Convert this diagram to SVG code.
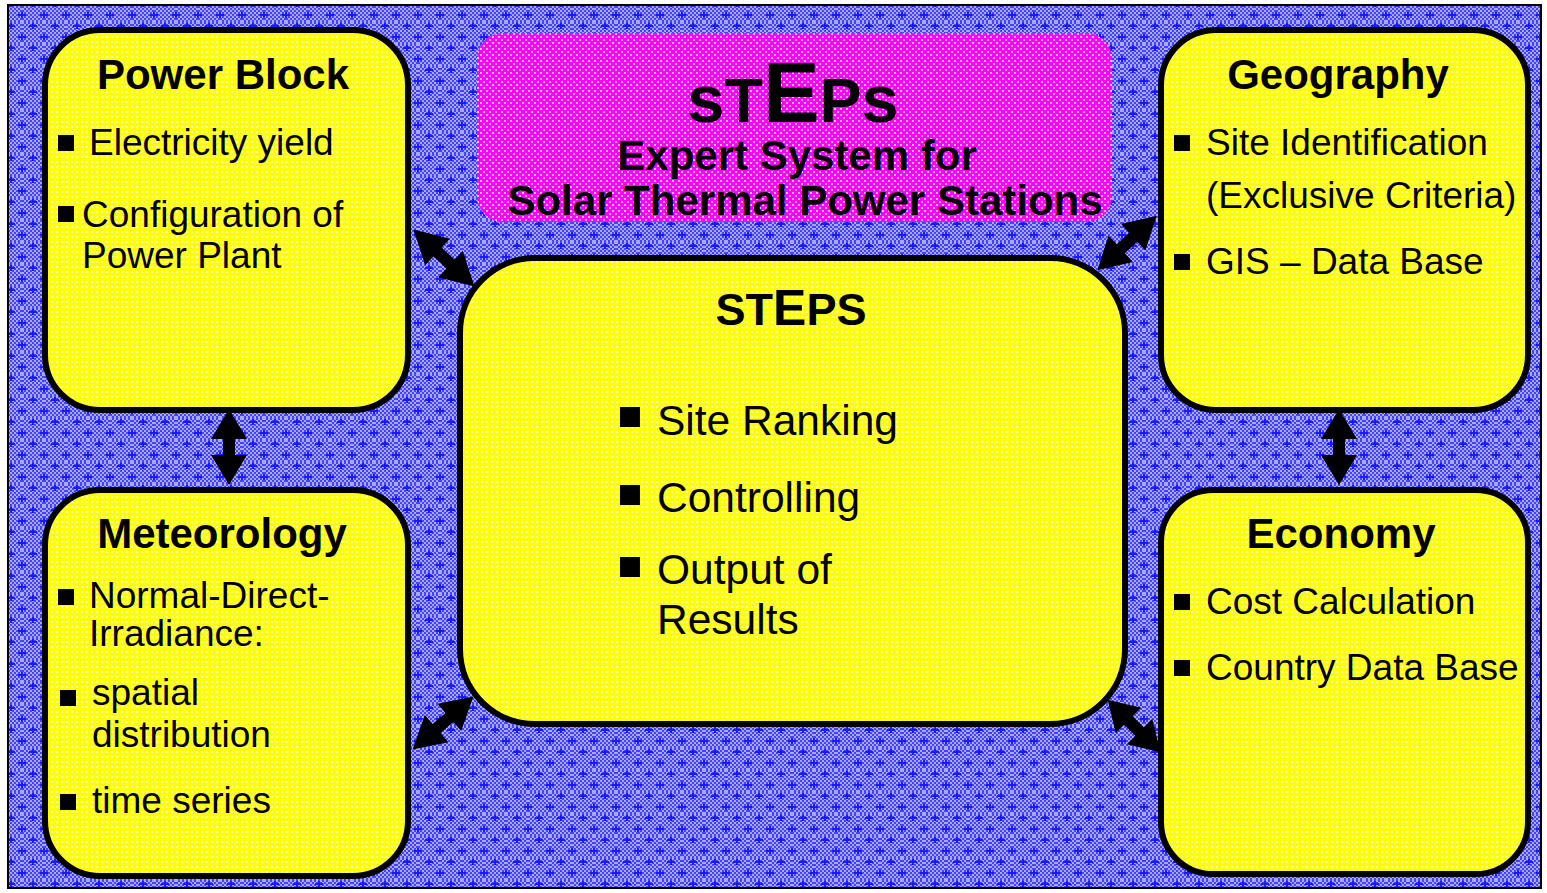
<svg xmlns="http://www.w3.org/2000/svg" xmlns:xlink="http://www.w3.org/1999/xlink" width="1547" height="893" viewBox="0 0 1547 893">
  <style>
    .box { fill: url(#yellowDots); stroke: #000; stroke-width: 6; }
    .title { font-family: "Liberation Sans", Arial, sans-serif; font-weight: bold; font-size: 42px; fill: #000; }
    .item { font-family: "Liberation Sans", Arial, sans-serif; font-size: 37px; fill: #000; }
    .big { font-family: "Liberation Sans", Arial, sans-serif; font-size: 42.5px; fill: #000; }
    .bullet { fill: #000; }
    .arrow { fill: #000; }
  </style>
  <defs>
    <!-- blue checker background with darker crosses -->
    <pattern id="blueChk" width="4" height="4" patternUnits="userSpaceOnUse">
      <rect width="4" height="4" fill="#4242ff"/>
      <rect x="0" y="0" width="2" height="2" fill="#a8a8ff"/>
      <rect x="2" y="2" width="2" height="2" fill="#a8a8ff"/>
    </pattern>
    <pattern id="blueBg" width="22" height="22" patternUnits="userSpaceOnUse">
      <rect width="22" height="22" fill="url(#blueChk)"/>
      <path d="M10 1h2v6h-2zM7 3h8v2h-8z" fill="#1a1aff"/>
      <path d="M-1 12h2v6h-2zM21 12h2v6h-2zM-4 14h8v2h-8zM18 14h8v2h-8z" fill="#1a1aff"/>
    </pattern>
    <!-- yellow fill with pale dots -->
    <pattern id="yellowDots" width="5" height="5" patternUnits="userSpaceOnUse">
      <rect width="5" height="5" fill="#ffff00"/>
      <rect x="1" y="1" width="2" height="2" fill="#ffffb0"/>
    </pattern>
    <!-- magenta checker -->
    <pattern id="magentaChk" width="6" height="6" patternUnits="userSpaceOnUse">
      <rect width="6" height="6" fill="#ff00ff"/>
      <rect x="0" y="0" width="2" height="2" fill="#ffb4ff"/>
      <rect x="3" y="3" width="2" height="2" fill="#ffb4ff"/>
    </pattern>
    <!-- double-headed block arrow along the x axis -->
    <path id="dblArrow" d="M-38 0L-8 -18L-8 -6L8 -6L8 -18L38 0L8 18L8 6L-8 6L-8 18Z"/>
  </defs>

  <!-- background and frame -->
  <rect x="8" y="5" width="1533" height="883" fill="url(#blueBg)" stroke="#000" stroke-width="2"/>

  <!-- title banner -->
  <g id="banner">
    <rect x="477" y="33" width="635" height="189" rx="26" fill="url(#magentaChk)"/>
    <text x="793" y="122" text-anchor="middle" class="title"><tspan font-size="67">s</tspan><tspan font-size="63">T</tspan><tspan font-size="85">E</tspan><tspan font-size="63">P</tspan><tspan font-size="67">s</tspan></text>
    <text x="797" y="170" text-anchor="middle" class="title">Expert System for</text>
    <text x="805" y="215" text-anchor="middle" class="title" font-size="42.5">Solar Thermal Power Stations</text>
  </g>

  <!-- connectors -->
  <g id="connectors" class="arrow">
    <use xlink:href="#dblArrow" transform="translate(444 258) rotate(43) scale(1.1 1)"/>
    <use xlink:href="#dblArrow" transform="translate(1127 243) rotate(-42.5) scale(1.06 1)"/>
    <use xlink:href="#dblArrow" transform="translate(443 723) rotate(-41) scale(1.06 1)"/>
    <use xlink:href="#dblArrow" transform="translate(1134 726) rotate(45) scale(0.98 1)"/>
    <use xlink:href="#dblArrow" transform="translate(229 447) rotate(90)"/>
    <use xlink:href="#dblArrow" transform="translate(1339 447) rotate(90)"/>
  </g>

  <!-- Power Block -->
  <g id="power-block">
    <rect class="box" x="45" y="30" width="363" height="380" rx="55"/>
    <text x="223" y="89" text-anchor="middle" class="title">Power Block</text>
    <rect class="bullet" x="58" y="135" width="16" height="16"/>
    <text x="89" y="155" class="item">Electricity yield</text>
    <rect class="bullet" x="58" y="206" width="16" height="16"/>
    <text x="82" y="227" class="item">Configuration of</text>
    <text x="82" y="268" class="item">Power Plant</text>
  </g>

  <!-- Meteorology -->
  <g id="meteorology">
    <rect class="box" x="45" y="490" width="363" height="386" rx="55"/>
    <text x="222" y="548" text-anchor="middle" class="title">Meteorology</text>
    <rect class="bullet" x="58" y="589" width="16" height="16"/>
    <text x="89" y="608" class="item">Normal-Direct-</text>
    <text x="89" y="646" class="item">Irradiance:</text>
    <rect class="bullet" x="60" y="690" width="16" height="16"/>
    <text x="92" y="705" class="item">spatial</text>
    <text x="92" y="747" class="item">distribution</text>
    <rect class="bullet" x="60" y="794" width="16" height="16"/>
    <text x="92" y="813" class="item">time series</text>
  </g>

  <!-- central expert system -->
  <g id="steps">
    <rect class="box" x="460" y="258" width="665" height="466" rx="75"/>
    <text x="791" y="325" text-anchor="middle" class="title"><tspan font-size="45">ST</tspan><tspan font-size="50">E</tspan><tspan font-size="45">PS</tspan></text>
    <rect class="bullet" x="620" y="407" width="20" height="20"/>
    <text x="657" y="435" class="big">Site Ranking</text>
    <rect class="bullet" x="620" y="485" width="20" height="20"/>
    <text x="657" y="512" class="big">Controlling</text>
    <rect class="bullet" x="620" y="557" width="20" height="20"/>
    <text x="657" y="584" class="big">Output of</text>
    <text x="657" y="634" class="big">Results</text>
  </g>

  <!-- Geography -->
  <g id="geography">
    <rect class="box" x="1161" y="30" width="367" height="380" rx="55"/>
    <text x="1338" y="89" text-anchor="middle" class="title">Geography</text>
    <rect class="bullet" x="1174" y="135" width="16" height="16"/>
    <text x="1206" y="155" class="item">Site Identification</text>
    <text x="1206" y="208" class="item">(Exclusive Criteria)</text>
    <rect class="bullet" x="1174" y="254" width="16" height="16"/>
    <text x="1206" y="274" class="item">GIS – Data Base</text>
  </g>

  <!-- Economy -->
  <g id="economy">
    <rect class="box" x="1161" y="490" width="367" height="384" rx="52"/>
    <text x="1341" y="548" text-anchor="middle" class="title">Economy</text>
    <rect class="bullet" x="1174" y="594" width="16" height="16"/>
    <text x="1206" y="614" class="item">Cost Calculation</text>
    <rect class="bullet" x="1174" y="660" width="16" height="16"/>
    <text x="1206" y="680" class="item">Country Data Base</text>
  </g>
</svg>
